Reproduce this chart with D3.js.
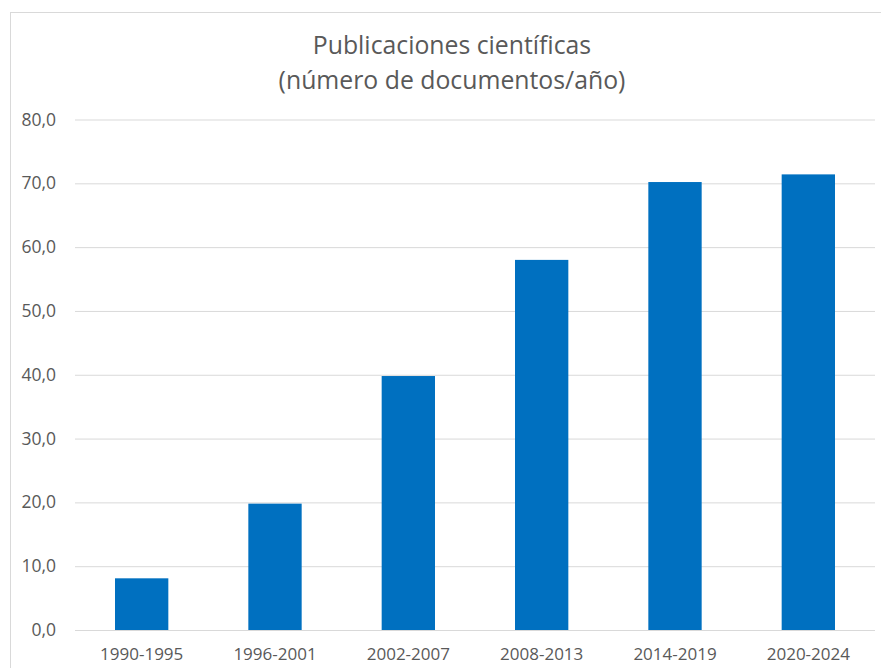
<!DOCTYPE html>
<html>
<head>
<meta charset="utf-8">
<script src="https://cdn.jsdelivr.net/npm/d3@7/dist/d3.min.js"></script>
<style>
  html, body { margin: 0; padding: 0; background: #fff; }
  svg text { font-family: "Open Sans", "Noto Sans", sans-serif; fill: #595959; }
</style>
</head>
<body>
<div id="chart"></div>
<script>
const periods = ["1990-1995", "1996-2001", "2002-2007", "2008-2013", "2014-2019", "2020-2024"];
const docsPerYear = [8.1, 19.8, 39.8, 58.0, 70.2, 71.4];
const yTicks = [0, 10, 20, 30, 40, 50, 60, 70, 80];
const titleLines = ["Publicaciones científicas", "(número de documentos/año)"];

const width = 881;
const height = 668;
const plot = { left: 75, right: 875, top: 119.5, bottom: 630 };

// comma as decimal mark, like the original spreadsheet
const esLocale = d3.formatLocale({ decimal: ",", thousands: ".", grouping: [3], currency: ["", " €"] });
const fmt = esLocale.format(".1f");

const svg = d3
  .select("#chart")
  .append("svg")
  .attr("width", width)
  .attr("height", height);

svg
  .append("rect")
  .attr("x", 10.5)
  .attr("y", 12.5)
  .attr("width", 900)
  .attr("height", 700)
  .attr("fill", "#fff")
  .attr("stroke", "#d9d9d9")
  .attr("stroke-width", 1);

const x = d3
  .scaleBand()
  .domain(periods)
  .range([plot.left, plot.right])
  .paddingInner(0.6)
  .paddingOuter(0.3);

const y = d3.scaleLinear().domain([0, 80]).range([plot.bottom, plot.top]);

// gridlines + y labels
const yAxis = svg
  .append("g")
  .attr("transform", `translate(${plot.left},0)`)
  .call(
    d3
      .axisLeft(y)
      .tickValues(yTicks)
      .tickFormat(fmt)
      .tickSize(-(plot.right - plot.left))
      .tickPadding(19)
  );
yAxis.select(".domain").remove();
yAxis.selectAll(".tick line").attr("stroke", "#d9d9d9").attr("stroke-width", 1);
yAxis.selectAll(".tick text").attr("font-size", "17.5px").attr("dy", "0.32em");

// bars
svg
  .append("g")
  .selectAll("rect")
  .data(docsPerYear)
  .enter()
  .append("rect")
  .attr("x", (d, i) => x(periods[i]))
  .attr("y", (d) => y(d))
  .attr("width", x.bandwidth())
  .attr("height", (d) => y(0) - y(d))
  .attr("fill", "#0070c0");

// category labels
const xAxis = svg
  .append("g")
  .attr("transform", `translate(0,${plot.bottom})`)
  .call(d3.axisBottom(x).tickSize(0).tickPadding(18));
xAxis.select(".domain").remove();
xAxis.selectAll(".tick text").attr("font-size", "17px");

// title
svg
  .append("g")
  .selectAll("text")
  .data(titleLines)
  .enter()
  .append("text")
  .attr("x", 452)
  .attr("y", (d, i) => 54 + i * 35)
  .attr("text-anchor", "middle")
  .attr("font-size", "24.8px")
  .text((d) => d);
</script>
</body>
</html>
